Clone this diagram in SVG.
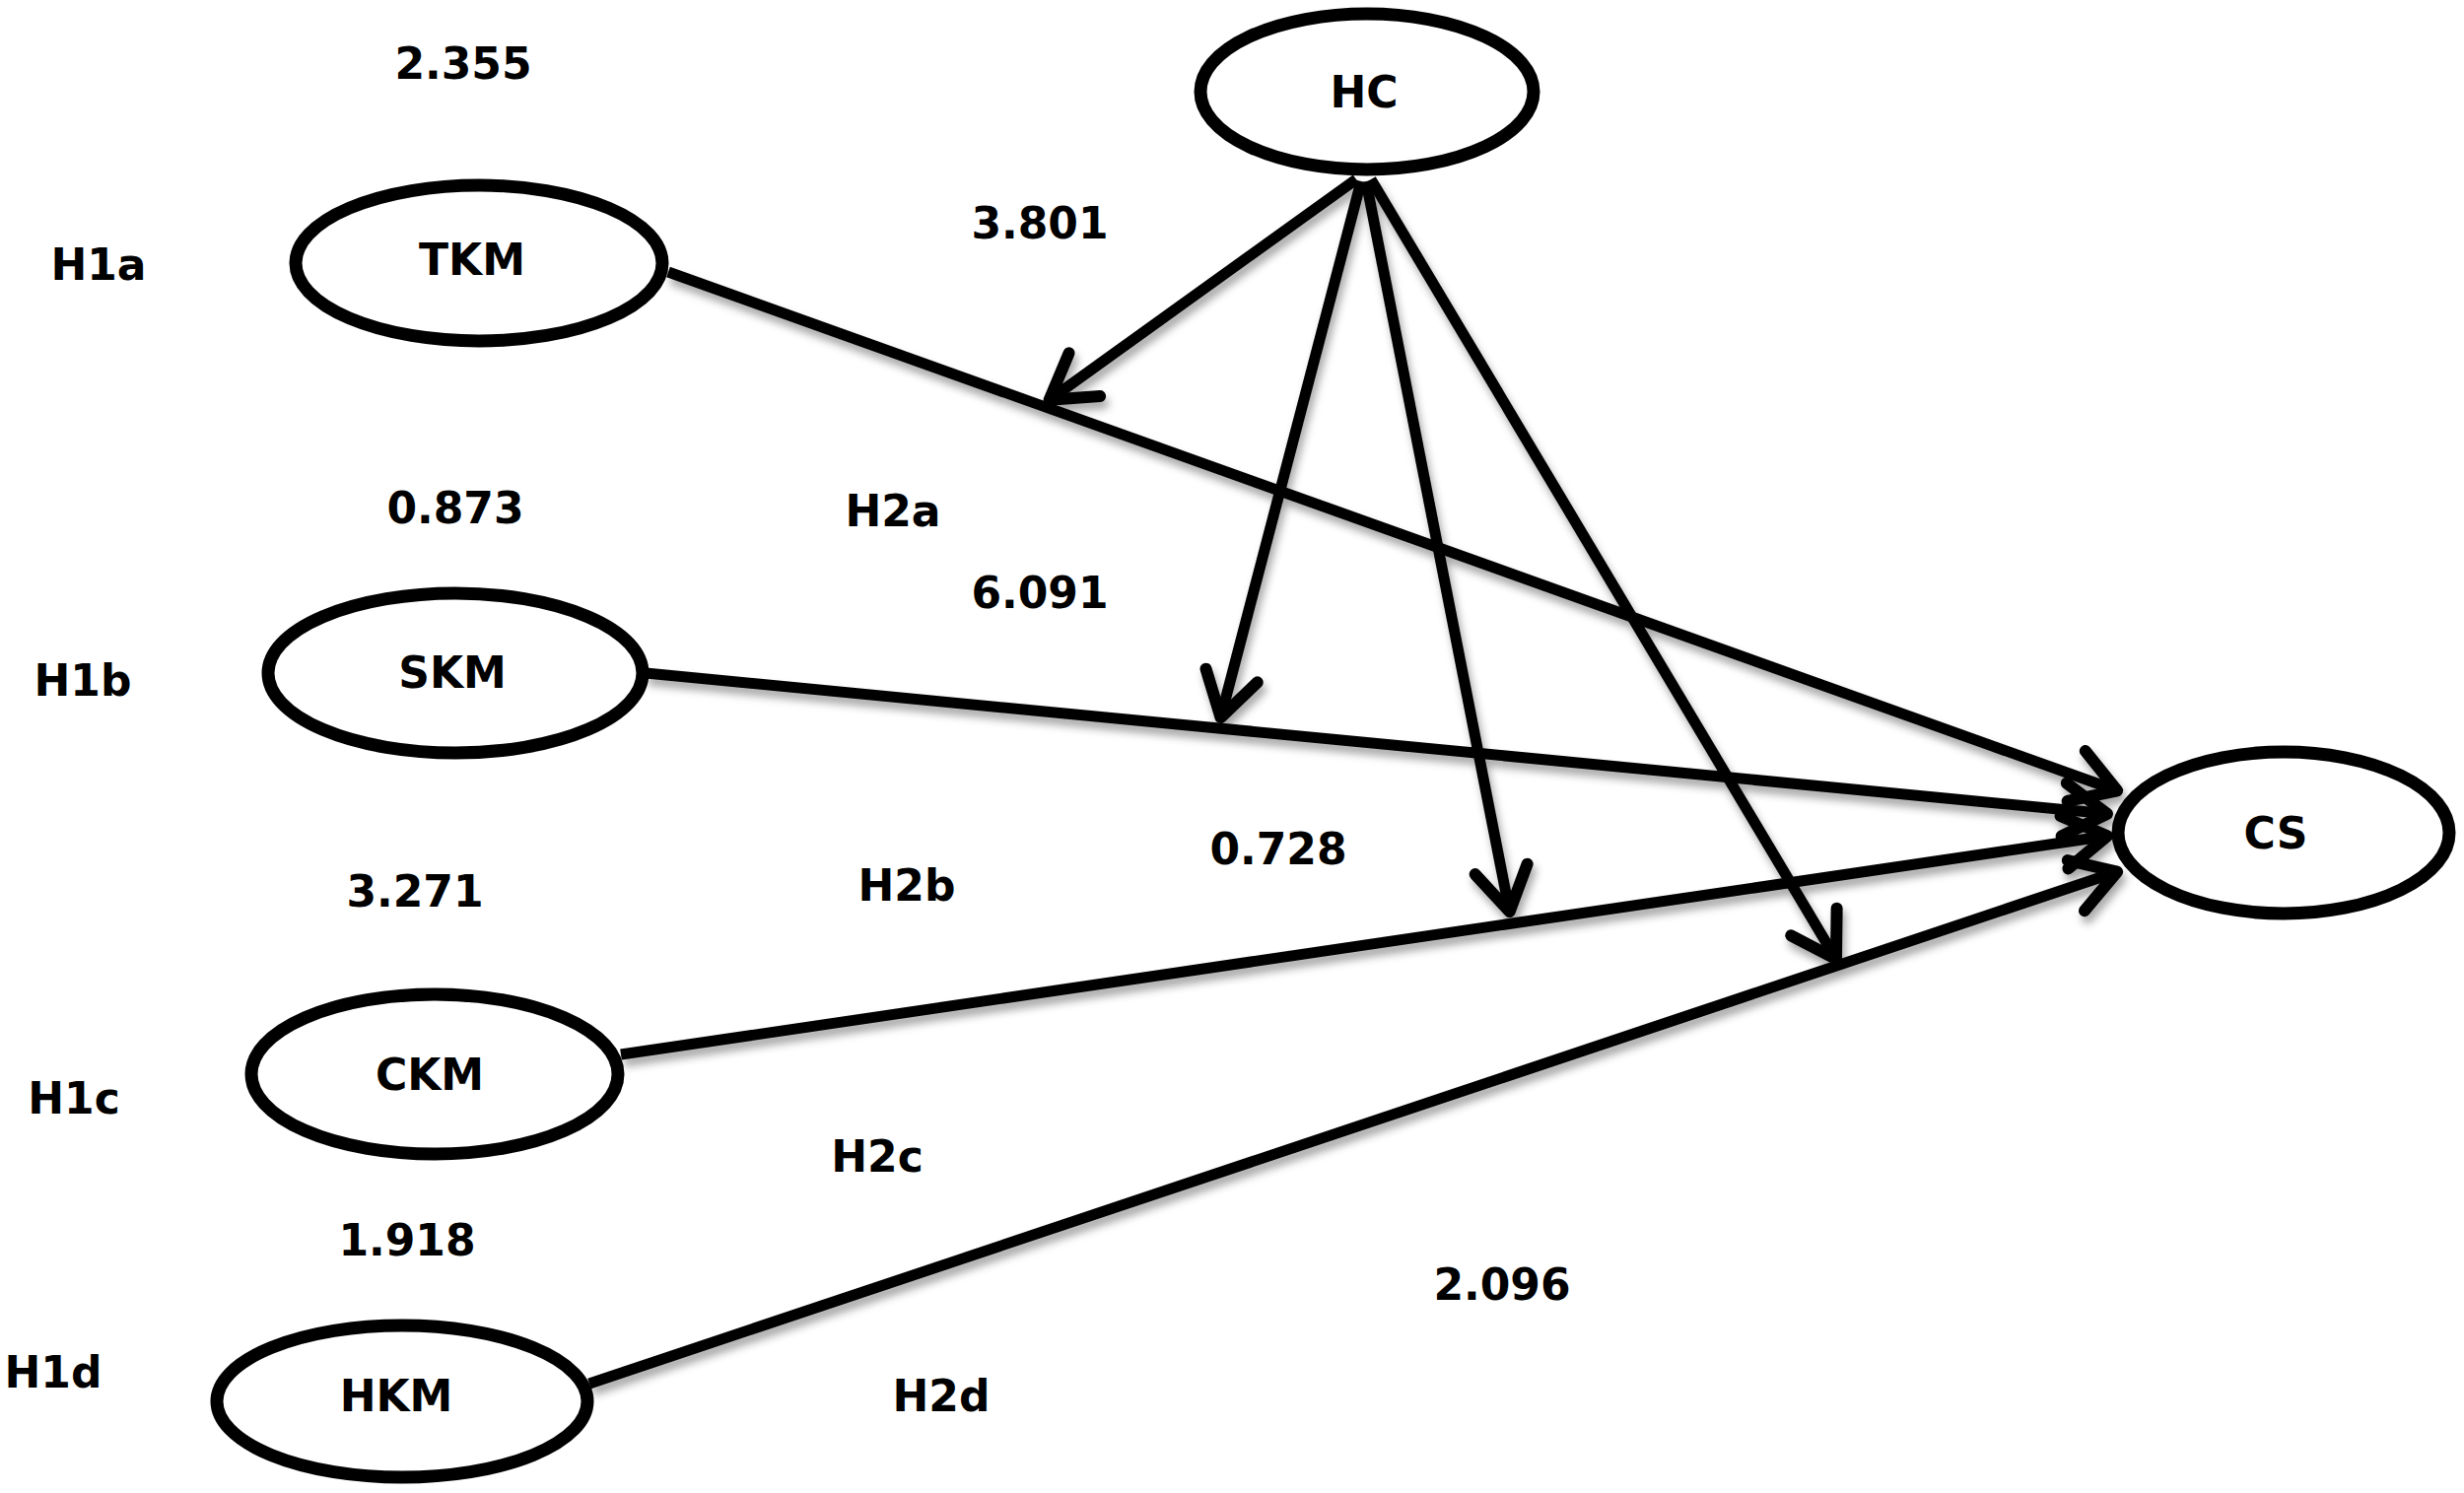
<svg xmlns="http://www.w3.org/2000/svg" width="2500" height="1515" viewBox="0 0 2500 1515">
<defs>
<style>
.node{fill:#fff;stroke:#000;stroke-width:13}
.lbl{font-family:"DejaVu Sans","Liberation Sans",sans-serif;font-weight:bold;font-size:44px;fill:#000;text-anchor:middle}
.edge{fill:none;stroke:#000;stroke-width:11;stroke-linecap:butt;marker-end:url(#arr)}
</style>
<marker id="arr" markerUnits="userSpaceOnUse" markerWidth="80" markerHeight="80" viewBox="-60 -40 80 80" refX="0" refY="0" orient="auto">
<path d="M-46,-27 L-2,0 L-46,27" fill="none" stroke="#000" stroke-width="12" stroke-linecap="round" stroke-linejoin="round"/>
</marker>
<filter id="sh" x="-10%" y="-10%" width="120%" height="130%">
<feDropShadow dx="3" dy="7" stdDeviation="4" flood-color="#000" flood-opacity="0.35"/>
</filter>
</defs>
<rect width="2500" height="1515" fill="#fff"/>
<g id="connectors" filter="url(#sh)">
<line class="edge" x1="678" y1="276" x2="2150" y2="803"/>
<line class="edge" x1="655" y1="683" x2="2140" y2="826"/>
<line class="edge" x1="630" y1="1070" x2="2140" y2="848"/>
<line class="edge" x1="598" y1="1404" x2="2150" y2="884"/>
<line class="edge" x1="1376" y1="182" x2="1063" y2="407"/>
<line class="edge" x1="1381" y1="184" x2="1238" y2="730"/>
<line class="edge" x1="1386" y1="184" x2="1532" y2="927"/>
<line class="edge" x1="1391" y1="182" x2="1864" y2="975"/>
</g>
<g id="HC"><ellipse class="node" cx="1387" cy="93" rx="169" ry="79"/><text class="lbl" x="1384" y="109">HC</text></g>
<g id="TKM"><ellipse class="node" cx="486" cy="267" rx="186" ry="79"/><text class="lbl" x="479" y="279">TKM</text></g>
<g id="SKM"><ellipse class="node" cx="462" cy="683" rx="190" ry="81"/><text class="lbl" x="459" y="698">SKM</text></g>
<g id="CKM"><ellipse class="node" cx="441" cy="1090" rx="186" ry="81"/><text class="lbl" x="436" y="1106">CKM</text></g>
<g id="HKM"><ellipse class="node" cx="408" cy="1422" rx="188" ry="77"/><text class="lbl" x="402" y="1432">HKM</text></g>
<g id="CS"><ellipse class="node" cx="2317" cy="845" rx="168" ry="82"/><text class="lbl" x="2309" y="861">CS</text></g>
<g id="labels">
<text class="lbl" x="470" y="80">2.355</text>
<text class="lbl" x="100" y="284">H1a</text>
<text class="lbl" x="1055" y="242">3.801</text>
<text class="lbl" x="462" y="531">0.873</text>
<text class="lbl" x="906" y="534">H2a</text>
<text class="lbl" x="1055" y="617">6.091</text>
<text class="lbl" x="84" y="706">H1b</text>
<text class="lbl" x="421" y="920">3.271</text>
<text class="lbl" x="920" y="914">H2b</text>
<text class="lbl" x="1297" y="877">0.728</text>
<text class="lbl" x="75" y="1130">H1c</text>
<text class="lbl" x="890" y="1189">H2c</text>
<text class="lbl" x="413" y="1274">1.918</text>
<text class="lbl" x="1524" y="1319">2.096</text>
<text class="lbl" x="54" y="1408">H1d</text>
<text class="lbl" x="955" y="1432">H2d</text>
</g>
</svg>
